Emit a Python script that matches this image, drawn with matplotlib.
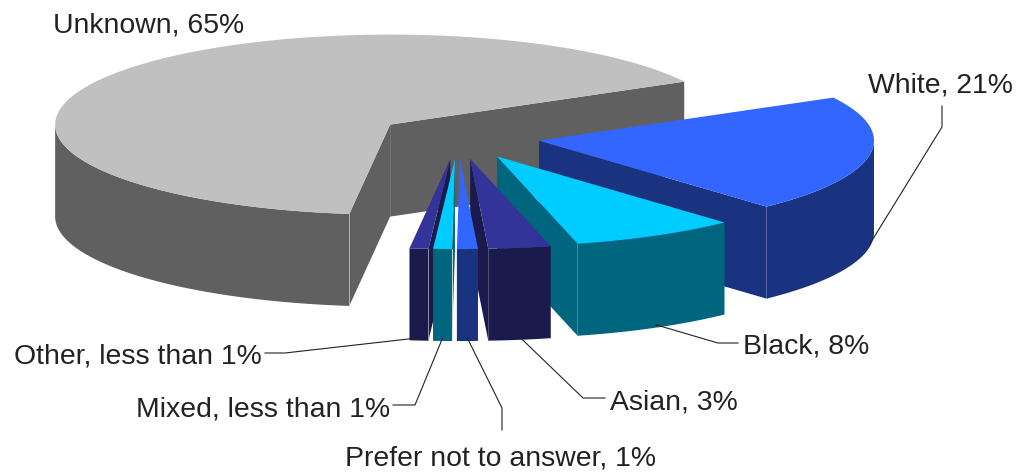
import numpy as np
import matplotlib.pyplot as plt
from matplotlib.patches import Polygon

# ethnicity breakdown
labels = ['Unknown', 'White', 'Black', 'Asian', 'Prefer not to answer', 'Mixed', 'Other']
values = [65, 21, 8, 3, 1, 0.9, 0.9]
label_texts = ['Unknown, 65%', 'White, 21%', 'Black, 8%', 'Asian, 3%',
               'Prefer not to answer, 1%', 'Mixed, less than 1%', 'Other, less than 1%']

top_colors = ['#c0c0c0', '#3366ff', '#00ccff', '#333399', '#3366ff', '#00ccff', '#333399']
side_colors = ['#606060', '#1a3380', '#006680', '#1a1a4d', '#1a3380', '#006680', '#1a1a4d']

# 3d pie geometry, in canvas pixels
cx, cy = 458, 137
rx, ry = 335, 90
depth = 92
explode = 0.245
start = 263.0

frac = np.array(values) / sum(values)
a2s = start - np.concatenate([[0], np.cumsum(frac)[:-1]]) * 360
a1s = a2s - frac * 360
mids = (a1s + a2s) / 2


def rim(ox, oy, ang, z=0.0):
    a = np.radians(ang)
    return ox + rx * np.cos(a), oy - ry * np.sin(a) + z * depth


def arc(ox, oy, lo, hi, z=0.0):
    angs = np.linspace(lo, hi, max(int(abs(hi - lo) * 2), 4))
    return [rim(ox, oy, a, z) for a in angs]


def front_ranges(lo, hi):
    out = []
    for k in (-1, 0, 1):
        s, e = max(lo, -180 + 360 * k), min(hi, 360 * k)
        if e > s:
            out.append((s, e))
    return out


fig = plt.figure(figsize=(10.18, 4.73), dpi=100)
ax = fig.add_axes([0, 0, 1, 1])
ax.set_xlim(0, 1018)
ax.set_ylim(473, 0)
ax.axis('off')

origins = []
for m in mids:
    a = np.radians(m)
    origins.append((cx + explode * rx * np.cos(a), cy - explode * ry * np.sin(a)))

order = np.argsort(-np.sin(np.radians(mids)), kind='stable')
for i in order:
    ox, oy = origins[i]
    a1, a2 = a1s[i], a2s[i]
    side = side_colors[i]
    # cut faces facing the viewer
    for ang, normal in ((a1, a1 - 90), (a2, a2 + 90)):
        if np.sin(np.radians(normal)) < 0:
            p = rim(ox, oy, ang)
            pb = rim(ox, oy, ang, 1)
            face = [(ox, oy), p, pb, (ox, oy + depth)]
            ax.add_patch(Polygon(face, closed=True, fc=side, ec='none', zorder=1))
            ax.plot([p[0], pb[0]], [p[1], pb[1]], color='#e6e6e6', lw=0.6, zorder=1)
    # outer wall
    for s, e in front_ranges(a1, a2):
        wall = arc(ox, oy, s, e) + arc(ox, oy, s, e, 1)[::-1]
        ax.add_patch(Polygon(wall, closed=True, fc=side, ec='none', zorder=1))
    # top
    top = [(ox, oy)] + arc(ox, oy, a1, a2)
    ax.add_patch(Polygon(top, closed=True, fc=top_colors[i], ec='none', zorder=1))

# labels and leader lines
text_pos = [(53, 33, 'left'), (940, 92, 'center'), (743, 353, 'left'),
            (610, 409, 'left'), (501, 465, 'center'), (390, 416, 'right'),
            (262, 363, 'right')]
elbows = [None, [(942, 127), (942, 106)], [(718, 343), (738, 343)],
          [(583, 398), (605, 398)], [(502, 408), (502, 430)],
          [(415, 405), (393, 405)], [(285, 353), (265, 353)]]

for i, txt in enumerate(label_texts):
    x, y, ha = text_pos[i]
    ax.text(x, y, txt, ha=ha, va='baseline', fontsize=20.4,
            family='Liberation Sans', color='#222222', zorder=3)
    if elbows[i] is not None:
        ox, oy = origins[i]
        anchor = rim(ox, oy, mids[i], 0.97)
        pts = [anchor] + elbows[i]
        ax.plot([p[0] for p in pts], [p[1] for p in pts], color='#222222', lw=0.8, zorder=2)

fig.savefig('out.png', dpi=100, facecolor='white')
